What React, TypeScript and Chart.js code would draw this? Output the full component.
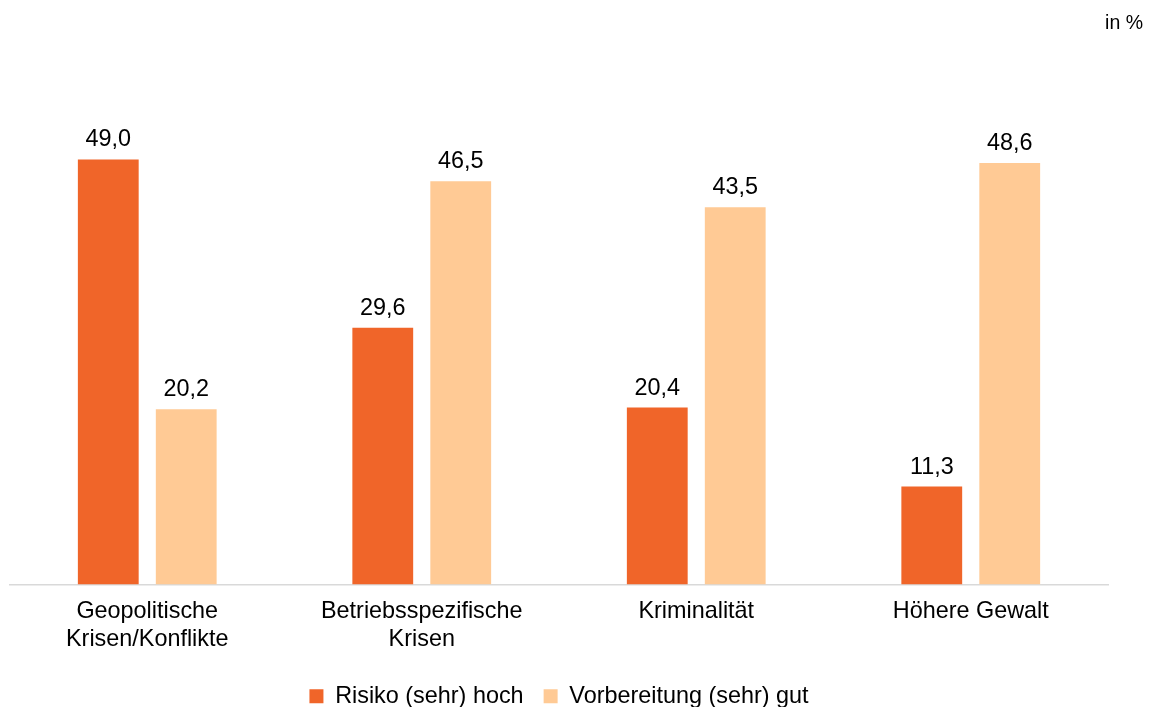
import React, { useEffect, useRef } from "react";
import { Chart, registerables } from "chart.js";

Chart.register(...registerables);

const categories: string[][] = [
  ["Geopolitische", "Krisen/Konflikte"],
  ["Betriebsspezifische", "Krisen"],
  ["Kriminalität"],
  ["Höhere Gewalt"],
];
const risikoValues: number[] = [49.0, 29.6, 20.4, 11.3];
const vorbereitungValues: number[] = [20.2, 46.5, 43.5, 48.6];
const seriesNames: string[] = ["Risiko (sehr) hoch", "Vorbereitung (sehr) gut"];
const unitLabel = "in %";

const FONT = "'Liberation Sans', Arial, sans-serif";
const ORANGE = "#F06529";
const PEACH = "#FFCA95";

const valueLabels = {
  id: "valueLabels",
  afterDatasetsDraw(chart: any) {
    const ctx = chart.ctx;
    ctx.save();
    ctx.font = `23.4px ${FONT}`;
    ctx.fillStyle = "#000";
    ctx.textAlign = "center";
    ctx.textBaseline = "alphabetic";
    chart.data.datasets.forEach((ds: any, di: number) => {
      const meta = chart.getDatasetMeta(di);
      meta.data.forEach((el: any, i: number) => {
        const v = ds.data[i] as number;
        ctx.fillText(v.toFixed(1).replace(".", ","), el.x, el.y - 13);
      });
    });
    ctx.restore();
  },
};

const unitText = {
  id: "unitText",
  afterDraw(chart: any) {
    const ctx = chart.ctx;
    ctx.save();
    ctx.font = `19.5px ${FONT}`;
    ctx.fillStyle = "#000";
    ctx.textAlign = "right";
    ctx.textBaseline = "alphabetic";
    ctx.fillText(unitLabel, 1143, 29);
    ctx.restore();
  },
};

export default function App() {
  const ref = useRef<HTMLCanvasElement | null>(null);
  useEffect(() => {
    document.body.style.margin = "0";
    if (!ref.current) return;
    const chart = new Chart(ref.current, {
      type: "bar",
      data: {
        labels: categories,
        datasets: [
          {
            label: seriesNames[0],
            data: risikoValues,
            backgroundColor: ORANGE,
            borderWidth: 0,
          },
          {
            label: seriesNames[1],
            data: vorbereitungValues,
            backgroundColor: PEACH,
            borderWidth: 0,
          },
        ],
      },
      options: {
        responsive: true,
        maintainAspectRatio: false,
        animation: false,
        layout: { padding: { top: 64, left: 10, right: 42, bottom: -11 } },
        datasets: {
          bar: { categoryPercentage: 0.568, barPercentage: 0.78 },
        },
        scales: {
          x: {
            grid: { display: false },
            border: { display: true, color: "#D9D9D9", width: 1.5 },
            ticks: {
              color: "#000",
              font: { family: FONT, size: 23.4, lineHeight: 1.2 },
              padding: 5,
              maxRotation: 0,
              autoSkip: false,
            },
            afterFit: (scale: any) => {
              scale.height = 80;
            },
          },
          y: {
            display: false,
            min: 0,
            max: 60,
          },
        },
        plugins: {
          legend: {
            position: "bottom",
            labels: {
              color: "#000",
              font: { family: FONT, size: 23.4 },
              boxWidth: 14,
              boxHeight: 14,
              padding: 20,
            },
          },
          tooltip: { enabled: false },
        },
      },
      plugins: [valueLabels, unitText],
    });
    return () => chart.destroy();
  }, []);
  return (
    <div style={{ position: "fixed", left: 0, top: 0, width: 1150, height: 707, background: "#fff" }}>
      <canvas ref={ref} />
    </div>
  );
}
